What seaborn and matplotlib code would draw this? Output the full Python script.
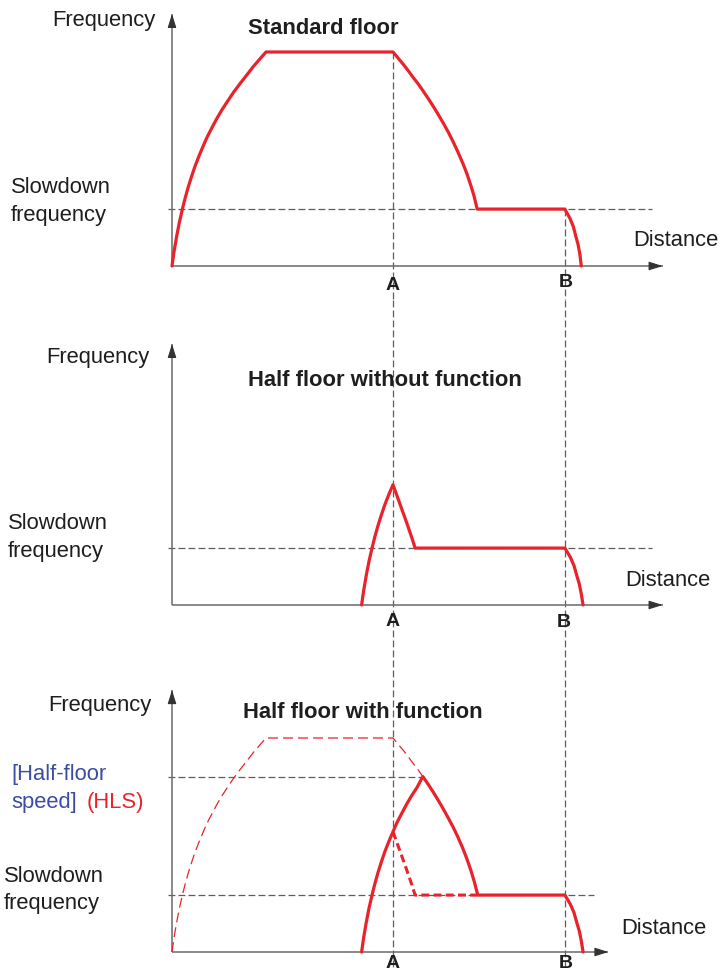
import matplotlib
matplotlib.use("Agg")
import matplotlib.pyplot as plt
import pandas as pd
import seaborn as sns

sns.set_theme(style="white")
plt.rcParams["font.family"] = ["Liberation Sans", "DejaVu Sans"]

# ---- data: distance (arbitrary units) vs drive frequency (Hz) ----
A_POS = 10.0
B_POS = 17.78
F_MAX = 50.0
F_SLOW = 13.3
F_HLS = 41.0

# standard floor: accelerate, run at full speed, decelerate at A, creep, stop at B
std_dist = [0, 0.090, 0.213, 0.330, 0.466, 0.602, 0.738, 0.891, 1.041, 1.222, 1.416,
            1.597, 1.796, 2.023, 2.249, 2.502, 2.774, 3.077, 3.380, 3.679, 3.982, 4.253,
            10.0, 10.226, 10.452, 10.679, 10.905, 11.131, 11.35, 11.584, 11.810, 12.036,
            12.262, 12.489, 12.715, 12.941, 13.167, 13.348, 13.529, 13.665, 13.81,
            17.78, 17.86, 18.01, 18.16, 18.28, 18.38, 18.46, 18.52]
std_freq = [0, 3.3, 7.0, 10.1, 13.2, 16.0, 18.5, 21.0, 23.3, 25.7, 28.1,
            30.2, 32.2, 34.4, 36.4, 38.4, 40.5, 42.6, 44.6, 46.6, 48.4, 50.0,
            50.0, 48.6, 47.2, 45.7, 44.1, 42.6, 41.0, 39.2, 37.4, 35.5,
            33.5, 31.4, 29.1, 26.6, 23.9, 21.5, 18.7, 16.4, 13.3,
            13.3, 12.5, 11.1, 9.2, 6.8, 4.9, 2.6, 0]

# half floor without the function: A is reached while still accelerating
half_dist = [8.58, 8.67, 8.793, 8.91, 9.046, 9.182, 9.318, 9.471, 9.621, 9.802, 10.0,
             10.3, 10.6, 10.86, 11.0,
             17.78, 17.87, 18.03, 18.19, 18.32, 18.43, 18.52, 18.60]
half_freq = [0, 3.3, 7.0, 10.1, 13.2, 16.0, 18.5, 21.0, 23.3, 25.7, 28.1,
             23.8, 19.5, 15.6, 13.3,
             13.3, 12.5, 11.1, 9.2, 6.8, 4.9, 2.6, 0]

# standard profile shown for reference, up to the half-floor speed point
ref_dist = std_dist[:29]
ref_freq = std_freq[:29]

# half floor with the function: keep accelerating up to [Half-floor speed]
hls_dist = [8.58, 8.67, 8.793, 8.91, 9.046, 9.182, 9.318, 9.471, 9.621, 9.802, 10.0,
            10.177, 10.376, 10.603, 10.829, 11.082, 11.35,
            11.576, 11.803, 12.029, 12.255, 12.481, 12.708, 12.934, 13.160, 13.341,
            13.522, 13.681, 13.835,
            17.78, 17.87, 18.03, 18.19, 18.32, 18.43, 18.52, 18.60]
hls_freq = [0, 3.3, 7.0, 10.1, 13.2, 16.0, 18.5, 21.0, 23.3, 25.7, 28.1,
            30.2, 32.2, 34.4, 36.4, 38.4, 41.0,
            39.3, 37.5, 35.6, 33.6, 31.5, 29.3, 26.9, 24.2, 21.8,
            19.1, 16.4, 13.3,
            13.3, 12.5, 11.1, 9.2, 6.8, 4.9, 2.6, 0]

# same trip without the function (dashed)
nohls_dist = [10.0, 10.3, 10.6, 10.86, 11.0, 13.835]
nohls_freq = [28.1, 23.8, 19.5, 15.6, 13.3, 13.3]

# ---- layout ----
W, H = 719, 973
fig = plt.figure(figsize=(W / 100, H / 100), dpi=100)

PX_PER_D = 22.1          # pixels per distance unit
F_PER_PX = 50.0 / 214.0  # frequency units per pixel
X0_PX = 172              # pixel column of the frequency axis

RED = "#e8232b"
GREY = "#6a6a6a"
DASH_GREY = "#5e5e5e"
HEAD = "#333333"
TXT = "#1e1e1e"
BLUE = "#3a4da0"


def make_panel(top, bottom, axis_y):
    ax = fig.add_axes([0, 1 - bottom / H, 1, (bottom - top) / H])
    ax.set_xlim(-X0_PX / PX_PER_D, (W - X0_PX) / PX_PER_D)
    ax.set_ylim((axis_y - bottom) * F_PER_PX, (axis_y - top) * F_PER_PX)
    ax.set_axis_off()
    ax.patch.set_alpha(0)
    return ax


def axes_arrows(ax, x_end, y_end):
    ax.plot([0, x_end], [0, 0], color=GREY, lw=1.1, solid_capstyle="butt", zorder=2)
    ax.plot([0, 0], [0, y_end], color=GREY, lw=1.1, solid_capstyle="butt", zorder=2)
    head = dict(arrowstyle="-|>,head_length=0.7,head_width=0.22", color=HEAD,
                lw=0.8, shrinkA=0, shrinkB=0, mutation_scale=12)
    ax.annotate("", xy=(x_end, 0), xytext=(x_end - 0.3, 0), arrowprops=head, zorder=3)
    ax.annotate("", xy=(0, y_end), xytext=(0, y_end - 1.5), arrowprops=head, zorder=3)


def guide(ax, xs, ys):
    ax.plot(xs, ys, color=DASH_GREY, lw=0.9, linestyle=(0, (5.5, 2.5)), zorder=1)


def curve(ax, xs, ys, **kw):
    df = pd.DataFrame({"distance": xs, "frequency": ys})
    sns.lineplot(data=df, x="distance", y="frequency", ax=ax, sort=False,
                 estimator=None, color=RED, zorder=4, solid_joinstyle="round",
                 **kw)
    ax.set_axis_off()


def ftext(x, y, s, **kw):
    kw.setdefault("color", TXT)
    kw.setdefault("va", "baseline")
    fig.text(x / W, 1 - y / H, s, **kw)


ax1 = make_panel(0, 300, 266)
ax2 = make_panel(300, 640, 605)
ax3 = make_panel(640, 973, 952)

# ---- panel 1: standard floor ----
y1lo = ax1.get_ylim()[0]
guide(ax1, [-0.18, 21.7], [F_SLOW, F_SLOW])
guide(ax1, [A_POS, A_POS], [F_MAX, y1lo])
guide(ax1, [B_POS, B_POS], [F_SLOW, y1lo])
axes_arrows(ax1, 22.2, 58.9)
curve(ax1, std_dist, std_freq, lw=2.3)

# ---- panel 2: half floor without function ----
y2lo, y2hi = ax2.get_ylim()
guide(ax2, [-0.18, 21.7], [F_SLOW, F_SLOW])
guide(ax2, [A_POS, A_POS], [y2hi, y2lo])
guide(ax2, [B_POS, B_POS], [y2hi, y2lo])
axes_arrows(ax2, 22.2, 61.0)
curve(ax2, half_dist, half_freq, lw=2.3)

# ---- panel 3: half floor with function ----
y3hi = ax3.get_ylim()[1]
guide(ax3, [-0.18, hls_dist[hls_freq.index(F_HLS)]], [F_HLS, F_HLS])
guide(ax3, [-0.18, 19.1], [F_SLOW, F_SLOW])
guide(ax3, [A_POS, A_POS], [y3hi, -4.2])
guide(ax3, [B_POS, B_POS], [y3hi, -4.2])
axes_arrows(ax3, 19.75, 61.2)
curve(ax3, ref_dist, ref_freq, lw=0.9, linestyle=(0, (8, 4)))
curve(ax3, nohls_dist, nohls_freq, lw=2.2, linestyle=(0, (2.6, 1.4)))
curve(ax3, hls_dist, hls_freq, lw=2.3)

# ---- text ----
FS = 15.8
ftext(156, 26, "Frequency", fontsize=FS, ha="right")
ftext(248, 34, "Standard floor", fontsize=FS, fontweight="bold")
ftext(11, 193.5, "Slowdown", fontsize=FS)
ftext(11, 220.5, "frequency", fontsize=FS)
ftext(633, 246, "Distance", fontsize=FS)
ftext(393, 290, "A", fontsize=14, fontweight="bold", ha="center")
ftext(566, 287, "B", fontsize=14, fontweight="bold", ha="center")

ftext(149, 363, "Frequency", fontsize=FS, ha="right")
ftext(248, 386, "Half floor without function", fontsize=FS, fontweight="bold")
ftext(8, 529, "Slowdown", fontsize=FS)
ftext(8, 556.5, "frequency", fontsize=FS)
ftext(625, 586, "Distance", fontsize=FS)
ftext(393, 626, "A", fontsize=14, fontweight="bold", ha="center")
ftext(564, 627, "B", fontsize=14, fontweight="bold", ha="center")

ftext(152, 711.5, "Frequency", fontsize=FS, ha="right")
ftext(243, 718, "Half floor with function", fontsize=FS, fontweight="bold")
ftext(11, 780, "[Half-floor", fontsize=FS, color=BLUE)
ftext(11, 808, "speed]", fontsize=FS, color=BLUE)
ftext(87, 808, "(HLS)", fontsize=FS, color=RED)
ftext(4, 881.5, "Slowdown", fontsize=FS)
ftext(4, 909.5, "frequency", fontsize=FS)
ftext(621, 934, "Distance", fontsize=FS)
ftext(393, 968, "A", fontsize=14, fontweight="bold", ha="center")
ftext(566, 968, "B", fontsize=14, fontweight="bold", ha="center")

fig.savefig("out.png", dpi=100, facecolor="white")
